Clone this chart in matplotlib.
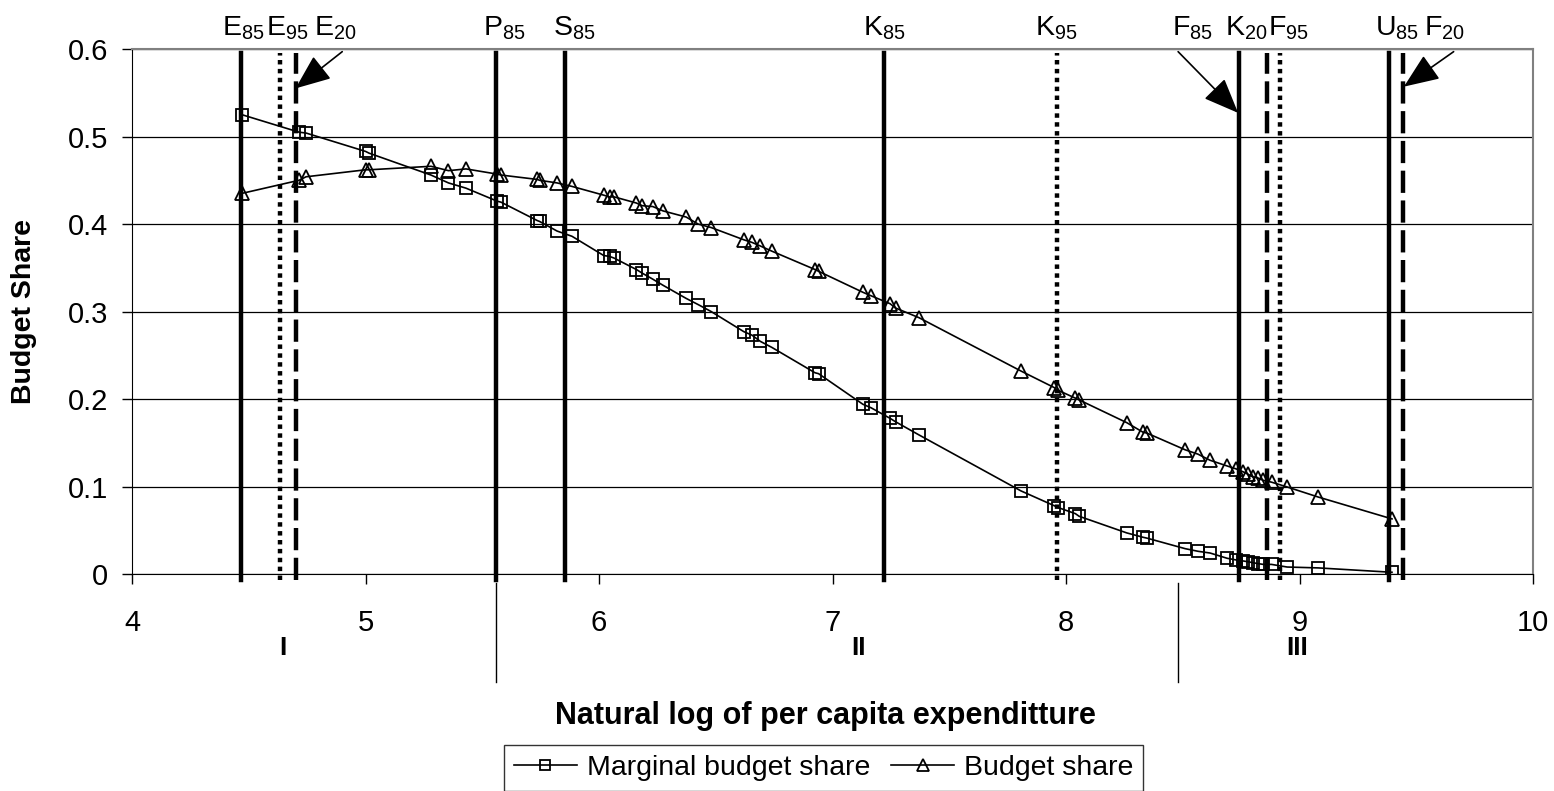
import matplotlib
matplotlib.use('Agg')
import matplotlib.pyplot as plt

plt.rcParams['font.family'] = ['Liberation Sans', 'DejaVu Sans']
plt.rcParams['mathtext.fontset'] = 'custom'
plt.rcParams['mathtext.rm'] = 'Liberation Sans'
plt.rcParams['mathtext.it'] = 'Liberation Sans'

# shared x positions (natural log of per capita expenditure)
log_exp = [4.47, 4.715, 4.745, 5.0, 5.015, 5.28, 5.355, 5.43, 5.565, 5.58,
           5.735, 5.745, 5.82, 5.884, 6.02, 6.045, 6.065, 6.16, 6.184, 6.23,
           6.274, 6.373, 6.424, 6.48, 6.62, 6.655, 6.69, 6.74, 6.925, 6.94,
           7.13, 7.165, 7.246, 7.27, 7.37, 7.807, 7.95, 7.966, 8.04, 8.056,
           8.26, 8.33, 8.347, 8.51, 8.565, 8.617, 8.69, 8.73, 8.757, 8.78,
           8.80, 8.82, 8.845, 8.88, 8.947, 9.08, 9.396]

marginal_share = [0.525, 0.505, 0.504, 0.483, 0.481, 0.456, 0.447, 0.441, 0.426, 0.425,
                  0.404, 0.403, 0.392, 0.386, 0.364, 0.363, 0.361, 0.348, 0.344, 0.337,
                  0.330, 0.315, 0.308, 0.300, 0.277, 0.273, 0.266, 0.259, 0.230, 0.229,
                  0.194, 0.190, 0.178, 0.174, 0.159, 0.095, 0.078, 0.076, 0.069, 0.066,
                  0.047, 0.042, 0.041, 0.029, 0.026, 0.024, 0.018, 0.016, 0.015, 0.014,
                  0.013, 0.012, 0.011, 0.011, 0.008, 0.007, 0.002]

budget_share = [0.435, 0.450, 0.454, 0.462, 0.462, 0.466, 0.461, 0.463, 0.457, 0.456,
                0.451, 0.450, 0.447, 0.443, 0.433, 0.431, 0.431, 0.424, 0.421, 0.420,
                0.415, 0.408, 0.400, 0.396, 0.382, 0.379, 0.375, 0.369, 0.348, 0.346,
                0.322, 0.318, 0.309, 0.304, 0.293, 0.232, 0.213, 0.210, 0.201, 0.199,
                0.173, 0.162, 0.161, 0.142, 0.137, 0.130, 0.1235, 0.120, 0.117, 0.114,
                0.111, 0.110, 0.107, 0.105, 0.0995, 0.088, 0.063]

# threshold markers (letter, subscript, position)
thr_letter = ['E', 'E', 'E', 'P', 'S', 'K', 'K', 'F', 'K', 'F', 'U', 'F']
thr_sub = ['85', '95', '20', '85', '85', '85', '95', '85', '20', '95', '85', '20']
thr_x = [4.467, 4.634, 4.70, 5.56, 5.855, 7.22, 7.96, 8.74, 8.86, 8.917, 9.383, 9.443]

# expenditure ranges
range_names = ['I', 'II', 'III']
range_bounds = [5.56, 8.48]

# layout only: where each threshold label sits
label_x = [4.475, 4.664, 4.869, 5.593, 5.893, 7.22, 7.957, 8.54, 8.771, 8.951, 9.418, 9.623]
range_label_x = [4.647, 7.11, 8.99]

styles = {'85': '-', '95': (0, (1, 1)), '20': (0, (5, 1.7))}

fig = plt.figure(figsize=(15.54, 7.91), dpi=100)
ax = fig.add_axes([0.085, 0.2743, 0.9015, 0.6637])

ax.set_xlim(4, 10)
ax.set_ylim(0, 0.6)
ax.set_yticks([0, 0.1, 0.2, 0.3, 0.4, 0.5, 0.6])
ax.set_yticklabels(['0', '0.1', '0.2', '0.3', '0.4', '0.5', '0.6'])
ax.set_xticks(range(4, 11))
ax.tick_params(labelsize=21, length=7, direction='out', width=1)
ax.tick_params(axis='x', pad=18)
ax.tick_params(axis='y', pad=10)
ax.yaxis.grid(True, color='black', linewidth=0.9)
ax.set_axisbelow(True)
for s in ['top', 'right']:
    ax.spines[s].set_color('#808080')
    ax.spines[s].set_linewidth(1.5)

ax.plot(log_exp, marginal_share, color='black', lw=1.2, marker='s', ms=9,
        mfc='none', mec='black', mew=1.3, label='Marginal budget share', zorder=3)
ax.plot(log_exp, budget_share, color='black', lw=1.2, marker='^', ms=10,
        mfc='none', mec='black', mew=1.3, label='Budget share', zorder=3)

for xv, sub in zip(thr_x, thr_sub):
    ax.plot([xv, xv], [-0.007, 0.596], color='black', lw=3.2,
            linestyle=styles[sub], clip_on=False, zorder=4)

for lx, let, sub in zip(label_x, thr_letter, thr_sub):
    ax.text(lx, 0.616, let + r'$_{' + sub + '}$', ha='center', va='baseline',
            fontsize=20.5)

arrow = dict(arrowstyle='-|>,head_length=1.1,head_width=0.45', color='black',
             lw=1.2, mutation_scale=20, shrinkA=0, shrinkB=0)
ax.annotate('', xy=(4.70, 0.555), xytext=(4.90, 0.597), arrowprops=arrow,
            annotation_clip=False)
ax.annotate('', xy=(8.737, 0.527), xytext=(8.48, 0.597), arrowprops=arrow,
            annotation_clip=False)
ax.annotate('', xy=(9.447, 0.557), xytext=(9.66, 0.597), arrowprops=arrow,
            annotation_clip=False)

for b in range_bounds:
    ax.plot([b, b], [-0.01, -0.123], color='black', lw=1, clip_on=False)
for rx, name in zip(range_label_x, range_names):
    ax.text(rx, -0.0846, name, ha='center', va='center', fontsize=19,
            fontweight='bold')

ax.set_ylabel('Budget Share', fontsize=20.5, fontweight='bold')
ax.yaxis.set_label_coords(-0.0678, 0.5)
fig.text(0.531, 0.0948, 'Natural log of per capita expenditture', ha='center',
         va='center', fontsize=22, fontweight='bold')

leg = fig.legend(loc='lower center', bbox_to_anchor=(0.530, -0.018), ncol=2,
                 fontsize=20.5, frameon=True, fancybox=False, edgecolor='black',
                 handlelength=2.2, handletextpad=0.35, columnspacing=0.75,
                 borderpad=0.35, markerscale=0.8)
leg.get_frame().set_linewidth(1.0)

fig.savefig('out.png', dpi=100)
